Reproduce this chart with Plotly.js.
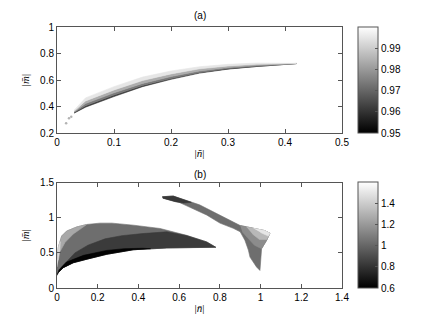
<!DOCTYPE html>
<html>
<head>
<meta charset="utf-8">
<script src="https://cdn.plot.ly/plotly-3.0.1.min.js"></script>
<style>
  html, body { margin: 0; padding: 0; background: #fff; }
  #plot1 { width: 437px; height: 328px; }
</style>
</head>
<body>
<div id="plot1"></div>
<script>
// ---- panel (a): thin band, edges between grey levels ----
var a_x = [0.030, 0.050, 0.100, 0.150, 0.200, 0.250, 0.300, 0.350, 0.420];
var a_edge0 = [0.350, 0.395, 0.475, 0.550, 0.605, 0.652, 0.682, 0.702, 0.724];
var a_edge1 = [0.354, 0.405, 0.486, 0.558, 0.612, 0.657, 0.686, 0.705, 0.724];
var a_edge2 = [0.359, 0.422, 0.503, 0.574, 0.626, 0.668, 0.694, 0.711, 0.725];
var a_edge3 = [0.365, 0.442, 0.525, 0.596, 0.646, 0.684, 0.706, 0.719, 0.725];
var a_edge4 = [0.372, 0.465, 0.550, 0.622, 0.668, 0.700, 0.718, 0.728, 0.726];
var a_levels = [0.961, 0.974, 0.984, 0.995];
var a_dot_x = [0.016, 0.021, 0.025];
var a_dot_y = [0.273, 0.311, 0.322];
var a_dot_level = 0.985;
var a_cmin = 0.95, a_cmax = 1.0;
var a_ticks = [0.95, 0.96, 0.97, 0.98, 0.99];

// ---- panel (b): filled regions ----
var crescent_x = [0.000, 0.000, 0.007, 0.023, 0.047, 0.097, 0.146, 0.210, 0.270, 0.375, 0.506, 0.637, 0.735, 0.780, 0.700, 0.540, 0.375, 0.244, 0.146, 0.080, 0.031, 0.010];
var crescent_y = [0.180, 0.400, 0.585, 0.740, 0.810, 0.870, 0.905, 0.924, 0.924, 0.895, 0.848, 0.750, 0.657, 0.580, 0.578, 0.570, 0.545, 0.480, 0.410, 0.360, 0.290, 0.230];
var crescent_level = 1.03;

var darkband_x = [0.003, 0.023, 0.088, 0.152, 0.236, 0.318, 0.420, 0.540, 0.637, 0.735, 0.780, 0.700, 0.540, 0.375, 0.244, 0.146, 0.080, 0.031, 0.010];
var darkband_y = [0.200, 0.300, 0.500, 0.610, 0.700, 0.745, 0.775, 0.800, 0.745, 0.657, 0.580, 0.578, 0.570, 0.545, 0.480, 0.410, 0.360, 0.290, 0.230];
var darkband_level = 0.83;

var black_x = [0.000, 0.010, 0.047, 0.130, 0.244, 0.330, 0.420, 0.460, 0.375, 0.244, 0.146, 0.080, 0.031, 0.010];
var black_y = [0.180, 0.260, 0.370, 0.465, 0.535, 0.560, 0.566, 0.560, 0.545, 0.480, 0.410, 0.360, 0.290, 0.230];
var black_level = 0.61;

var hook_x = [0.003, 0.007, 0.023, 0.047, 0.097, 0.146, 0.120, 0.080, 0.040, 0.015];
var hook_y = [0.450, 0.585, 0.740, 0.810, 0.870, 0.905, 0.850, 0.770, 0.650, 0.520];
var hook_level = 1.26;

var rim_x = [0.000, 0.000, 0.007, 0.016, 0.014, 0.007];
var rim_y = [0.300, 0.400, 0.585, 0.660, 0.540, 0.400];
var rim_level = 1.45;

var swoosh_x = [0.517, 0.571, 0.700, 0.830, 0.900, 0.965, 1.020, 1.046, 1.030, 1.005, 1.000, 0.997, 0.980, 0.948, 0.940, 0.923, 0.900, 0.866, 0.800, 0.735, 0.600, 0.520];
var swoosh_y = [1.300, 1.310, 1.185, 1.000, 0.890, 0.850, 0.818, 0.780, 0.680, 0.560, 0.400, 0.250, 0.300, 0.440, 0.540, 0.680, 0.800, 0.850, 0.925, 1.040, 1.220, 1.280];
var swoosh_level = 1.03;

var tip_x = [0.517, 0.571, 0.610, 0.660, 0.620, 0.580, 0.520];
var tip_y = [1.300, 1.310, 1.270, 1.220, 1.210, 1.230, 1.280];
var tip_level = 0.82;

var flap1_x = [0.900, 0.965, 1.020, 1.046, 1.030, 1.005, 0.970, 0.935, 0.910];
var flap1_y = [0.890, 0.850, 0.818, 0.780, 0.680, 0.560, 0.610, 0.720, 0.800];
var flap1_level = 1.15;
var flap2_x = [0.930, 0.965, 1.020, 1.046, 1.030, 0.995, 0.960];
var flap2_y = [0.873, 0.850, 0.818, 0.780, 0.690, 0.690, 0.770];
var flap2_level = 1.32;
var flap3_x = [0.965, 1.020, 1.046, 1.038, 1.000];
var flap3_y = [0.850, 0.818, 0.780, 0.740, 0.790];
var flap3_level = 1.50;

var b_cmin = 0.6, b_cmax = 1.6;
var b_ticks = [0.6, 0.8, 1, 1.2, 1.4];

var grayscale = [[0, 'rgb(0,0,0)'], [1, 'rgb(255,255,255)']];

function gray(v, lo, hi) {
  var t = Math.max(0, Math.min(1, (v - lo) / (hi - lo)));
  var g = Math.round(255 * t);
  return 'rgb(' + g + ',' + g + ',' + g + ')';
}

function patch(x, y, col, xa, ya) {
  return {
    type: 'scatter', mode: 'lines', x: x, y: y,
    fill: 'toself', fillcolor: col,
    line: {width: 0.6, color: col},
    xaxis: xa, yaxis: ya, hoverinfo: 'skip'
  };
}

var data = [];

// band strips of (a): lower edge forward, upper edge back
var a_edges = [a_edge0, a_edge1, a_edge2, a_edge3, a_edge4];
for (var i = 0; i < a_levels.length; i++) {
  var px = a_x.concat(a_x.slice().reverse());
  var py = a_edges[i].concat(a_edges[i + 1].slice().reverse());
  data.push(patch(px, py, gray(a_levels[i], a_cmin, a_cmax), 'x', 'y'));
}
data.push({
  type: 'scatter', mode: 'markers', x: a_dot_x, y: a_dot_y,
  marker: {size: 2.5, color: gray(a_dot_level, a_cmin, a_cmax)},
  xaxis: 'x', yaxis: 'y', hoverinfo: 'skip'
});

var regions = [
  [crescent_x, crescent_y, crescent_level],
  [darkband_x, darkband_y, darkband_level],
  [black_x, black_y, black_level],
  [hook_x, hook_y, hook_level],
  [rim_x, rim_y, rim_level],
  [swoosh_x, swoosh_y, swoosh_level],
  [tip_x, tip_y, tip_level],
  [flap1_x, flap1_y, flap1_level],
  [flap2_x, flap2_y, flap2_level],
  [flap3_x, flap3_y, flap3_level]
];
regions.forEach(function (r) {
  data.push(patch(r[0], r[1], gray(r[2], b_cmin, b_cmax), 'x2', 'y2'));
});

// colour bars only
function cbar(lo, hi, ticks, ya, ybottom) {
  return {
    type: 'scatter', mode: 'markers', x: [null, null], y: [null, null],
    xaxis: ya === 'y' ? 'x' : 'x2', yaxis: ya, hoverinfo: 'skip',
    marker: {
      color: [lo, hi], cmin: lo, cmax: hi, colorscale: grayscale, showscale: true,
      colorbar: {
        x: 358 / 437, xanchor: 'left', xpad: 0, ypad: 0,
        y: ybottom, yanchor: 'bottom', len: 106 / 328, lenmode: 'fraction',
        thickness: 20, thicknessmode: 'pixels',
        outlinewidth: 1, outlinecolor: '#555',
        tickvals: ticks, ticktext: ticks.map(String),
        ticks: 'inside', ticklen: 3, tickcolor: '#555',
        tickfont: {size: 10, color: '#000'}
      }
    }
  };
}
data.push(cbar(a_cmin, a_cmax, a_ticks, 'y', (328 - 133) / 328));
data.push(cbar(b_cmin, b_cmax, b_ticks, 'y2', (328 - 288) / 328));

var axisStyle = {
  showline: true, linecolor: '#555', linewidth: 1, mirror: 'ticks',
  ticks: 'inside', ticklen: 4, tickcolor: '#555',
  showgrid: false, zeroline: false, fixedrange: true,
  tickfont: {size: 10, color: '#000'}
};
function ax(extra) { return Object.assign({}, axisStyle, extra); }
var labelFont = {family: 'Liberation Serif, serif', size: 11, color: '#000'};

var layout = {
  width: 437, height: 328,
  margin: {l: 0, r: 0, t: 0, b: 0},
  paper_bgcolor: '#fff', plot_bgcolor: '#fff',
  showlegend: false, hovermode: false,
  font: {family: 'Liberation Sans, Arial, sans-serif', size: 10, color: '#000'},
  xaxis: ax({domain: [57 / 437, 342 / 437], range: [0, 0.5], anchor: 'y',
    tickvals: [0, 0.1, 0.2, 0.3, 0.4, 0.5],
    title: {text: '|<i>ñ</i>|', font: labelFont, standoff: 2}}),
  yaxis: ax({domain: [(328 - 133) / 328, (328 - 27) / 328], range: [0.2, 1], anchor: 'x',
    tickvals: [0.2, 0.4, 0.6, 0.8, 1],
    title: {text: '|<i>m\u0304</i>|', font: labelFont, standoff: 8}}),
  xaxis2: ax({domain: [57 / 437, 342 / 437], range: [0, 1.4], anchor: 'y2',
    tickvals: [0, 0.2, 0.4, 0.6, 0.8, 1, 1.2, 1.4],
    title: {text: '|<i>n\u0304</i>|', font: labelFont, standoff: 2}}),
  yaxis2: ax({domain: [(328 - 288) / 328, (328 - 182.7) / 328], range: [0, 1.5], anchor: 'x2',
    tickvals: [0, 0.5, 1, 1.5],
    title: {text: '|<i>m\u0304</i>|', font: labelFont, standoff: 8}}),
  annotations: [
    {text: '(a)', xref: 'paper', yref: 'paper', x: 199.5 / 437, y: (328 - 15) / 328,
     xanchor: 'center', yanchor: 'middle', showarrow: false, font: {size: 10}},
    {text: '(b)', xref: 'paper', yref: 'paper', x: 199.5 / 437, y: (328 - 175) / 328,
     xanchor: 'center', yanchor: 'middle', showarrow: false, font: {size: 10}}
  ]
};

Plotly.newPlot('plot1', data, layout, {staticPlot: true, displayModeBar: false});
</script>
</body>
</html>
